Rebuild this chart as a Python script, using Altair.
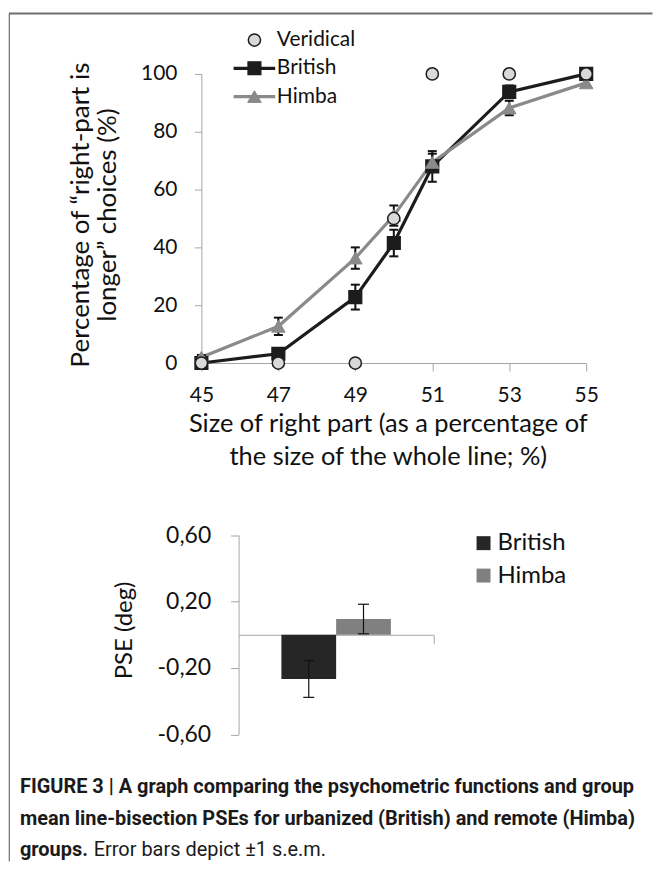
import altair as alt
import pandas as pd

# ---------------- data ----------------
sizes = [45, 47, 49, 50, 51, 53, 55]
british = [0.0, 3.2, 22.8, 41.5, 68.0, 93.8, 100.0]
british_sem = [0.0, 1.0, 4.3, 4.6, 5.3, 2.2, 0.0]
himba = [2.0, 12.7, 36.3, 51.0, 69.4, 88.2, 96.9]
himba_sem = [0.8, 3.0, 3.7, 3.5, 3.0, 2.5, 1.0]
veridical = [0, 0, 0, 50, 100, 100, 100]
series_names = ["Veridical", "British", "Himba"]
x_ticks = [45, 47, 49, 51, 53, 55]
y_ticks = [0, 20, 40, 60, 80, 100]

groups = ["British", "Himba"]
pse = [-0.266, 0.095]
pse_sem = [0.111, 0.089]
pse_ticks = [-0.6, -0.2, 0.2, 0.6]

caption_1 = "FIGURE 3 | A graph comparing the psychometric functions and group"
caption_2 = "mean line-bisection PSEs for urbanized (British) and remote (Himba)"
caption_3a = "groups."
caption_3b = "Error bars depict \u00b11 s.e.m."

# ---------------- tables ----------------
rows = []
for name, vals, errs in [("British", british, british_sem), ("Himba", himba, himba_sem)]:
    for s, v, e in zip(sizes, vals, errs):
        rows.append(dict(series=name, size=s, pct=v, lo=v - e, hi=v + e, err=e))
lines_df = pd.DataFrame(rows)
ver_df = pd.DataFrame(dict(series="Veridical", size=sizes, pct=veridical))
pts_df = pd.concat([lines_df[["series", "size", "pct"]], ver_df], ignore_index=True)
err_df = lines_df[lines_df.err > 0]
caps_df = pd.concat([
    err_df[["series", "size"]].assign(cap=err_df["lo"]),
    err_df[["series", "size"]].assign(cap=err_df["hi"]),
], ignore_index=True)
legend_df = pd.DataFrame({"series": series_names})

bar_df = pd.DataFrame(dict(cat="PSE", group=groups, pse=pse,
                           lo=[v - e for v, e in zip(pse, pse_sem)],
                           hi=[v + e for v, e in zip(pse, pse_sem)]))
bar_caps = pd.concat([
    bar_df[["cat", "group"]].assign(cap=bar_df["lo"]),
    bar_df[["cat", "group"]].assign(cap=bar_df["hi"]),
], ignore_index=True)

one = pd.DataFrame({"a": [0]})

FONT = "Lato"
AX = "#a6a6a6"
INK = "#111111"
C_BRIT = "#1c1c1c"
C_HIMBA = "#8a8a8a"
C_VER = "#d9d9d9"

# shared marker scales (plot markers and legend symbols)
shape_sc = alt.Scale(domain=series_names, range=["circle", "square", "triangle-up"])
fill_sc = alt.Scale(domain=series_names, range=[C_VER, C_BRIT, C_HIMBA])
stroke_sc = alt.Scale(domain=series_names, range=[C_BRIT, C_BRIT, C_HIMBA])
size_sc = alt.Scale(domain=series_names, range=[150, 185, 250])
sw_sc = alt.Scale(domain=series_names, range=[1.5, 1, 1])
line_col_sc = alt.Scale(domain=groups, range=[C_BRIT, C_HIMBA])


def marker_enc():
    return dict(
        shape=alt.Shape("series:N", scale=shape_sc, legend=None),
        fill=alt.Fill("series:N", scale=fill_sc, legend=None),
        stroke=alt.Stroke("series:N", scale=stroke_sc, legend=None),
        size=alt.Size("series:N", scale=size_sc, legend=None),
        strokeWidth=alt.StrokeWidth("series:N", scale=sw_sc, legend=None),
    )


# ---------------- top chart (psychometric functions) ----------------
xs = alt.Scale(domain=[45, 55], nice=False, zero=False)
ys = alt.Scale(domain=[0, 100], nice=False)
x_axis = alt.Axis(orient="bottom", values=x_ticks, tickSize=8, labelPadding=14,
                  labelFontSize=21, labelFlush=False,
                  title=["Size of right part (as a percentage of", "the size of the whole line; %)"],
                  titleFontSize=25.5, titleX=187, titleY=69, titleAlign="center",
                  titleBaseline="alphabetic", titleLineHeight=33)
y_axis = alt.Axis(orient="left", values=y_ticks, tickSize=7, labelPadding=17.5,
                  labelFontSize=21,
                  title=["Percentage of \u201cright-part is", "longer\u201d choices (%)"],
                  titleFontSize=26, titleAngle=270, titleX=-121, titleY=141,
                  titleAlign="center", titleBaseline="middle", titleLineHeight=27)

X = alt.X("size:Q", scale=xs, axis=x_axis)


def Yq(field):
    return alt.Y(field, scale=ys, axis=y_axis)


lines = alt.Chart(lines_df).mark_line(strokeWidth=3.2).encode(
    x=X, y=Yq("pct:Q"),
    color=alt.Color("series:N", scale=line_col_sc, legend=None))
err_rules = alt.Chart(err_df).mark_rule(color=INK, strokeWidth=2).encode(
    x=X, y=Yq("lo:Q"), y2="hi:Q")
err_caps = alt.Chart(caps_df).mark_tick(orient="horizontal", size=9, thickness=2,
                                        color=INK, opacity=1).encode(x=X, y=Yq("cap:Q"))
points = alt.Chart(pts_df).mark_point(filled=True, opacity=1).encode(
    x=X, y=Yq("pct:Q"), **marker_enc())

top = alt.layer(lines, err_rules, err_caps, points)

# ---------------- legend of the top chart (rows placed by a point scale) ----------------
leg_y = alt.Y("series:N", scale=alt.Scale(type="point", domain=series_names,
                                          range=[-34, 22.7], padding=0), axis=None)
leg_lines = alt.Chart(legend_df).transform_filter("datum.series !== 'Veridical'").mark_rule(
    strokeWidth=3.2).encode(
    x=alt.value(32.3), x2=alt.value(74), y=leg_y,
    color=alt.Color("series:N", scale=line_col_sc, legend=None))
leg_symbols = alt.Chart(legend_df).mark_point(filled=True, opacity=1).encode(
    x=alt.value(53.2), y=leg_y, **marker_enc())
leg_labels = alt.Chart(legend_df).mark_text(font=FONT, fontSize=21, align="left",
                                            baseline="middle", color=INK).encode(
    x=alt.value(75.7), y=leg_y, text="series:N")
top_legend = alt.layer(leg_lines, leg_symbols, leg_labels)

# ---------------- bottom chart (PSE bars) ----------------
xb_scale = alt.Scale(domain=["PSE"], range=[37.3, 233], paddingInner=0, paddingOuter=0)
xb_axis = alt.Axis(orient="bottom", offset=272.6, labels=False, title=None, tickSize=9,
                   bandPosition=1)
XB = alt.X("cat:N", scale=xb_scale, axis=xb_axis)
XO = alt.XOffset("group:N", scale=alt.Scale(domain=groups, paddingInner=0, paddingOuter=0.782))
yb_scale = alt.Scale(domain=[-0.6, 0.6], range=[662.5, 462.7], nice=False, zero=False)
yb_axis = alt.Axis(orient="left", values=pse_ticks, offset=-37.3, tickSize=8,
                   labelPadding=20, labelFontSize=23,
                   labelExpr="replace(replace(format(datum.value, '.2f'), '.', ','), '\u2212', '-')",
                   title="PSE (deg)", titleFontSize=24, titleAngle=270, titleX=-114,
                   titleY=557.7, titleAlign="center", titleBaseline="middle")


def YB(field):
    return alt.Y(field, scale=yb_scale, axis=yb_axis, stack=None)


legend_bot = alt.Legend(orient="none", legendX=271, legendY=458.7, title=None,
                        symbolType="square", symbolSize=196, symbolStrokeWidth=0,
                        labelOffset=2, rowPadding=8.5, labelFontSize=24, padding=0)

bars = alt.Chart(bar_df).mark_bar().encode(
    x=XB, xOffset=XO, y=YB("pse:Q"),
    color=alt.Color("group:N", scale=alt.Scale(domain=groups, range=["#262626", "#808080"]),
                    legend=legend_bot))
bar_err = alt.Chart(bar_df).mark_rule(color=INK, strokeWidth=1.2).encode(
    x=XB, xOffset=XO, y=YB("lo:Q"), y2="hi:Q")
bar_err_caps = alt.Chart(bar_caps).mark_tick(orient="horizontal", size=11, thickness=1.2,
                                             color=INK, opacity=1).encode(
    x=XB, xOffset=XO, y=YB("cap:Q"))

bottom = alt.layer(bars, bar_err, bar_err_caps)

# ---------------- frame and caption ----------------
frame_top = alt.Chart(one).mark_rule(color="#6e6e6e", strokeWidth=2).encode(
    x=alt.value(-193), x2=alt.value(452.5), y=alt.value(-60.5))
frame_left = alt.Chart(one).mark_rule(color="#6e6e6e", strokeWidth=1.2).encode(
    x=alt.value(-192.7), y=alt.value(-60.5), y2=alt.value(790))

CAP_FONT = "Roboto"


def cap_text(txt, x, y, bold):
    return alt.Chart(one).mark_text(text=txt, font=CAP_FONT, fontSize=20,
                                    fontWeight="bold" if bold else "normal",
                                    align="left", baseline="alphabetic",
                                    color="#1a1a1a").encode(x=alt.value(x), y=alt.value(y))


caps = [
    cap_text(caption_1, -182, 721.7, True),
    cap_text(caption_2, -182, 753.7, True),
    cap_text(caption_3a, -182, 784.7, True),
    cap_text(caption_3b, -108, 784.7, False),
]

chart = alt.layer(top, top_legend, bottom, frame_top, frame_left, *caps).resolve_scale(
    x="independent", y="independent", color="independent"
).properties(
    width=386, height=290,
    padding={"top": 2.8, "left": 0, "right": 0, "bottom": 0},
).configure_axis(
    labelFont=FONT, titleFont=FONT, titleFontWeight="normal", labelColor=INK,
    titleColor=INK, domainColor=AX, tickColor=AX, grid=False
).configure_legend(
    labelFont=FONT, labelColor=INK
).configure_view(stroke=None)

chart.save("out.html", embed_options={"renderer": "svg", "actions": False})
